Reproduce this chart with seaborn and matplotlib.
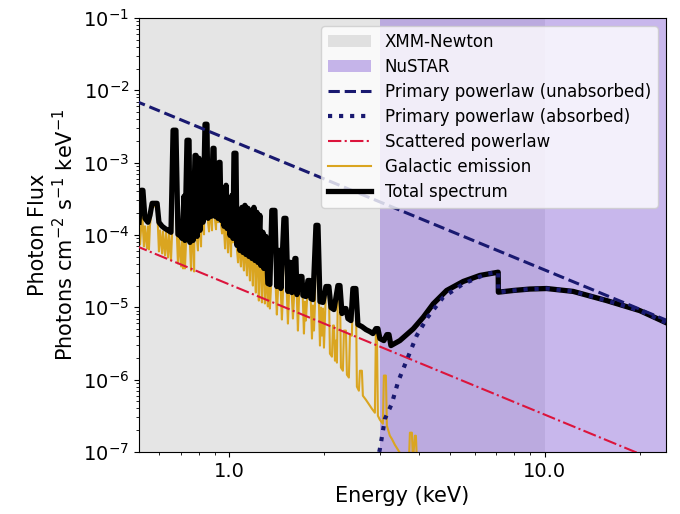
import numpy as np
import matplotlib
matplotlib.use("Agg")
import matplotlib.pyplot as plt
import seaborn as sns
from matplotlib.ticker import FixedLocator, FixedFormatter, NullFormatter

# Instrument bandpasses (keV)
xmm_band = (0.5, 10.0)
nustar_band = (3.0, 30.0)

# Power-law components (energy in keV, flux in photons cm^-2 s^-1 keV^-1)
powerlaw_energy = [0.5, 25.0]
primary_unabsorbed = [7.21e-3, 6.30e-6]
scattered_powerlaw = [7.21e-5, 6.30e-8]

# Absorbed primary power law (with Fe K edge at 7.1 keV)
absorbed_energy = [2.936, 3.000, 3.112, 3.268, 3.429, 3.663, 3.923, 4.250, 4.762,
                   5.510, 6.537, 7.112, 7.120, 7.94, 8.96, 10.13, 12.29, 15.69,
                   20.0, 24.35]
absorbed_flux = [7.1e-8, 1.11e-7, 2.88e-7, 4.6e-7, 9.5e-7, 1.94e-6, 4.07e-6, 7.3e-6,
                 1.38e-5, 2.11e-5, 2.91e-5, 3.06e-5, 1.62e-5, 1.71e-5, 1.79e-5,
                 1.82e-5, 1.66e-5, 1.24e-5, 9.0e-6, 6.07e-6]

# Galactic (thermal plasma) emission
galactic_energy = [
    0.517, 0.521, 0.525, 0.529, 0.532, 0.536, 0.540, 0.548, 0.552, 0.556,
    0.560, 0.569, 0.590, 0.594, 0.598, 0.603, 0.612, 0.616, 0.625, 0.630,
    0.639, 0.644, 0.653, 0.658, 0.668, 0.673, 0.682, 0.687, 0.692, 0.703,
    0.708, 0.713, 0.718, 0.723, 0.729, 0.734, 0.745, 0.750, 0.756, 0.761,
    0.767, 0.773, 0.778, 0.784, 0.790, 0.795, 0.801, 0.807, 0.813, 0.819,
    0.825, 0.831, 0.837, 0.849, 0.856, 0.862, 0.868, 0.875, 0.881, 0.887,
    0.894, 0.901, 0.907, 0.914, 0.920, 0.927, 0.934, 0.941, 0.948, 0.955,
    0.962, 0.969, 0.976, 0.983, 0.990, 0.997, 1.005, 1.012, 1.019, 1.027,
    1.034, 1.049, 1.057, 1.065, 1.072, 1.080, 1.088, 1.096, 1.104, 1.112,
    1.120, 1.128, 1.137, 1.145, 1.153, 1.162, 1.170, 1.179, 1.187, 1.196,
    1.205, 1.213, 1.222, 1.231, 1.240, 1.249, 1.258, 1.268, 1.277, 1.286,
    1.296, 1.305, 1.315, 1.324, 1.334, 1.344, 1.353, 1.363, 1.394, 1.404,
    1.414, 1.425, 1.435, 1.446, 1.456, 1.467, 1.478, 1.489, 1.511, 1.522,
    1.533, 1.544, 1.555, 1.567, 1.578, 1.590, 1.602, 1.613, 1.625, 1.637,
    1.649, 1.661, 1.673, 1.698, 1.710, 1.723, 1.736, 1.748, 1.761, 1.774,
    1.800, 1.813, 1.827, 1.840, 1.854, 1.867, 1.881, 1.909, 1.923, 1.937,
    1.951, 1.965, 1.980, 1.994, 2.023, 2.067, 2.083, 2.114, 2.129, 2.145,
    2.161, 2.176, 2.192, 2.208, 2.241, 2.257, 2.290, 2.307, 2.341, 2.358,
    2.392, 2.410, 2.445, 2.463, 2.517, 2.536, 2.573, 2.592, 2.630, 2.649,
    2.708, 2.748, 2.788, 2.829, 2.892, 2.913, 2.934, 2.956, 2.999, 3.065,
    3.088, 3.133, 3.156, 3.226, 3.273, 3.345, 3.470, 3.521, 3.707, 3.734,
    3.789, 3.817, 3.873, 3.901, 3.929, 4.2]
galactic_flux = [
    1.27e-4, 7.41e-5, 1.23e-4, 3.77e-4, 1.23e-4, 6.95e-5, 1.32e-4, 6.52e-5, 1.32e-4, 6.32e-5,
    1.36e-4, 2.49e-4, 2.49e-4, 1.23e-4, 5.93e-5, 1.16e-4, 5.56e-5, 1.12e-4, 5.22e-5, 1.09e-4,
    4.90e-5, 1.05e-4, 4.45e-5, 1.02e-4, 2.55e-3, 2.55e-3, 9.57e-5, 4.04e-5, 9.27e-5, 3.67e-5,
    8.42e-5, 3.45e-5, 8.42e-5, 3.45e-5, 8.15e-5, 1.86e-3, 1.86e-3, 7.41e-5, 3.23e-5, 4.42e-4,
    7.65e-5, 3.13e-5, 1.15e-3, 1.15e-3, 8.42e-5, 6.12e-5, 1.05e-3, 1.05e-4, 6.95e-5, 5.18e-4,
    1.32e-4, 1.02e-4, 3.09e-3, 3.09e-3, 1.50e-4, 1.12e-4, 6.08e-4, 1.59e-4, 1.16e-4, 1.44e-3,
    1.44e-3, 1.59e-4, 1.20e-4, 5.18e-4, 1.50e-4, 9.21e-4, 9.21e-4, 1.40e-4, 1.05e-4, 3.54e-4,
    1.16e-4, 6.52e-5, 4.42e-4, 1.09e-4, 5.74e-5, 2.74e-4, 8.69e-5, 5.06e-5, 3.21e-4, 7.90e-5,
    1.23e-3, 1.23e-3, 6.32e-5, 4.18e-5, 1.99e-4, 5.39e-5, 3.67e-5, 2.19e-4, 5.06e-5, 3.23e-5,
    2.34e-4, 4.74e-5, 2.76e-5, 2.12e-4, 4.45e-5, 2.35e-5, 1.99e-4, 4.18e-5, 2.00e-5, 2.19e-4,
    3.92e-5, 1.60e-5, 1.87e-4, 3.67e-5, 1.24e-5, 1.70e-4, 3.34e-5, 1.17e-5, 9.87e-5, 3.03e-5,
    1.13e-5, 8.69e-5, 1.88e-5, 1.03e-5, 1.88e-5, 9.62e-6, 1.71e-5, 1.99e-4, 1.99e-4, 1.66e-5,
    7.95e-6, 1.60e-5, 5.56e-5, 5.56e-5, 1.55e-5, 6.78e-6, 1.50e-5, 1.54e-4, 1.54e-4, 1.41e-5,
    5.96e-6, 1.41e-5, 3.79e-5, 3.79e-5, 1.37e-5, 7.00e-6, 1.32e-5, 4.31e-5, 4.31e-5, 1.28e-5,
    4.77e-6, 1.24e-5, 2.43e-5, 2.43e-5, 1.20e-5, 4.34e-6, 1.20e-5, 6.56e-6, 1.17e-5, 2.14e-5,
    2.14e-5, 1.09e-5, 3.70e-6, 1.06e-5, 4.77e-6, 1.06e-5, 1.23e-4, 1.23e-4, 1.03e-5, 2.96e-6,
    9.94e-6, 4.07e-6, 9.62e-6, 2.77e-6, 1.76e-5, 1.76e-5, 2.29e-6, 2.08e-6, 5.60e-6, 5.60e-6,
    1.83e-6, 3.47e-6, 1.72e-6, 1.82e-5, 1.82e-5, 1.47e-6, 1.33e-6, 4.77e-6, 4.77e-6, 1.17e-6,
    1.07e-6, 4.07e-6, 4.07e-6, 1.66e-5, 1.66e-5, 8.00e-7, 7.04e-7, 1.33e-6, 1.33e-6, 6.00e-7,
    5.28e-7, 4.80e-7, 4.37e-7, 3.97e-7, 3.49e-7, 4.62e-6, 4.62e-6, 3.17e-7, 2.79e-7, 2.46e-7,
    1.14e-6, 1.14e-6, 2.31e-7, 1.68e-7, 1.52e-7, 1.26e-7, 9.75e-8, 8.6e-8, 7.6e-8, 1.85e-7,
    1.85e-7, 7.6e-8, 1.68e-7, 1.68e-7, 7.6e-8, 4.0e-8]

# Total model spectrum
total_energy = [
    0.517, 0.525, 0.532, 0.540, 0.552, 0.560, 0.569, 0.590, 0.598, 0.612,
    0.625, 0.639, 0.653, 0.663, 0.677, 0.687, 0.703, 0.708, 0.718, 0.723,
    0.734, 0.745, 0.750, 0.761, 0.767, 0.778, 0.784, 0.790, 0.801, 0.807,
    0.819, 0.825, 0.837, 0.849, 0.856, 0.868, 0.875, 0.887, 0.894, 0.901,
    0.914, 0.920, 0.927, 0.934, 0.941, 0.955, 0.962, 0.976, 0.983, 0.997,
    1.005, 1.019, 1.027, 1.034, 1.049, 1.057, 1.072, 1.080, 1.096, 1.104,
    1.120, 1.128, 1.145, 1.153, 1.170, 1.179, 1.196, 1.205, 1.222, 1.231,
    1.249, 1.258, 1.277, 1.286, 1.305, 1.324, 1.344, 1.363, 1.394, 1.414,
    1.435, 1.446, 1.456, 1.489, 1.511, 1.533, 1.555, 1.567, 1.578, 1.613,
    1.625, 1.637, 1.673, 1.698, 1.710, 1.748, 1.774, 1.800, 1.813, 1.840,
    1.881, 1.909, 1.937, 1.980, 2.023, 2.067, 2.099, 2.145, 2.208, 2.241,
    2.274, 2.307, 2.341, 2.375, 2.428, 2.463, 2.517, 2.555, 2.630, 2.708,
    2.788, 2.851, 2.913, 2.956, 2.999, 3.088, 3.156, 3.204, 3.251, 3.470,
    3.825, 4.116, 4.428, 4.881, 5.510, 6.223, 7.112, 7.120, 7.94, 8.96,
    10.13, 12.29, 15.69, 20.0, 24.35]
total_flux = [
    1.50e-4, 4.15e-4, 4.15e-4, 1.70e-4, 1.50e-4, 1.87e-4, 2.74e-4, 2.74e-4, 1.50e-4, 1.32e-4,
    1.23e-4, 1.16e-4, 1.09e-4, 2.81e-3, 2.81e-3, 1.02e-4, 9.57e-5, 8.97e-5, 3.43e-4, 8.42e-5,
    2.04e-3, 2.04e-3, 7.90e-5, 4.87e-4, 8.42e-5, 1.26e-3, 1.26e-3, 9.57e-5, 1.15e-3, 1.16e-4,
    5.71e-4, 1.50e-4, 3.40e-3, 3.40e-3, 1.70e-4, 6.69e-4, 1.81e-4, 1.58e-3, 1.58e-3, 1.81e-4,
    5.71e-4, 1.70e-4, 1.01e-3, 1.01e-3, 1.59e-4, 3.89e-4, 1.32e-4, 4.87e-4, 1.23e-4, 3.01e-4,
    9.87e-5, 3.54e-4, 8.97e-5, 1.35e-3, 1.35e-3, 7.18e-5, 2.19e-4, 6.12e-5, 2.41e-4, 5.74e-5,
    2.57e-4, 5.39e-5, 2.34e-4, 5.06e-5, 2.19e-4, 4.74e-5, 2.41e-4, 4.45e-5, 2.06e-4, 4.18e-5,
    1.87e-4, 3.79e-5, 1.09e-4, 3.45e-5, 9.57e-5, 2.14e-5, 2.07e-5, 2.19e-4, 2.19e-4, 1.94e-5,
    6.12e-5, 6.12e-5, 1.82e-5, 1.70e-4, 1.70e-4, 1.66e-5, 4.18e-5, 4.18e-5, 1.60e-5, 4.74e-5,
    4.74e-5, 1.50e-5, 2.67e-5, 2.67e-5, 1.46e-5, 1.41e-5, 2.35e-5, 2.35e-5, 1.32e-5, 1.28e-5,
    1.36e-4, 1.36e-4, 1.20e-5, 1.17e-5, 1.94e-5, 1.94e-5, 9.94e-6, 9.32e-6, 2.00e-5, 2.00e-5,
    8.21e-6, 9.62e-6, 9.62e-6, 7.00e-6, 6.56e-6, 1.82e-5, 1.82e-5, 5.78e-6, 5.42e-6, 4.93e-6,
    4.62e-6, 4.34e-6, 5.08e-6, 5.08e-6, 3.70e-6, 3.47e-6, 4.20e-6, 4.20e-6, 2.96e-6, 3.47e-6,
    5.04e-6, 7.3e-6, 1.12e-5, 1.71e-5, 2.28e-5, 2.76e-5, 3.06e-5, 1.62e-5, 1.71e-5, 1.79e-5,
    1.82e-5, 1.66e-5, 1.24e-5, 9.0e-6, 6.07e-6]

fig = plt.figure(figsize=(6.8, 5.14), dpi=100)
ax = fig.add_axes([0.2044, 0.1206, 0.775, 0.8444])
ax.set_xscale("log")
ax.set_yscale("log")

ax.axvspan(*xmm_band, color="gray", alpha=0.2, lw=0, label="XMM-Newton", zorder=0)
ax.axvspan(*nustar_band, color="mediumpurple", alpha=0.5, lw=0, label="NuSTAR", zorder=0)

line_kw = dict(ax=ax, sort=False, estimator=None)
sns.lineplot(x=galactic_energy, y=galactic_flux, color="goldenrod", lw=1.5,
             label="Galactic emission", zorder=2, **line_kw)
sns.lineplot(x=total_energy, y=total_flux, color="black", lw=3.8,
             label="Total spectrum", zorder=3, **line_kw)
sns.lineplot(x=powerlaw_energy, y=scattered_powerlaw, color="crimson", lw=1.5,
             linestyle="-.", label="Scattered powerlaw", zorder=4, **line_kw)
sns.lineplot(x=powerlaw_energy, y=primary_unabsorbed, color="midnightblue", lw=2.2,
             linestyle="--", label="Primary powerlaw (unabsorbed)", zorder=4, **line_kw)
sns.lineplot(x=absorbed_energy, y=absorbed_flux, color="midnightblue", lw=3,
             linestyle=":", label="Primary powerlaw (absorbed)", zorder=5, **line_kw)

ax.set_xlim(0.517, 24.2)
ax.set_ylim(1e-7, 1e-1)

ax.xaxis.set_major_locator(FixedLocator([1.0, 10.0]))
ax.xaxis.set_major_formatter(FixedFormatter(["1.0", "10.0"]))
ax.xaxis.set_minor_formatter(NullFormatter())
ax.yaxis.set_minor_formatter(NullFormatter())
ax.tick_params(axis="both", which="major", labelsize=14)
ax.tick_params(axis="both", which="minor", labelbottom=False, labelleft=False)

ax.set_xlabel("Energy (keV)", fontsize=15)
ax.set_ylabel("Photon Flux\nPhotons cm$^{-2}$ s$^{-1}$ keV$^{-1}$", fontsize=15)

order = ["XMM-Newton", "NuSTAR", "Primary powerlaw (unabsorbed)",
         "Primary powerlaw (absorbed)", "Scattered powerlaw",
         "Galactic emission", "Total spectrum"]
handles, labels = ax.get_legend_handles_labels()
lookup = dict(zip(labels, handles))
ax.legend([lookup[k] for k in order], order, loc="upper right", fontsize=12,
          handlelength=2.6, labelspacing=0.42)

fig.savefig("out.png", dpi=100)
